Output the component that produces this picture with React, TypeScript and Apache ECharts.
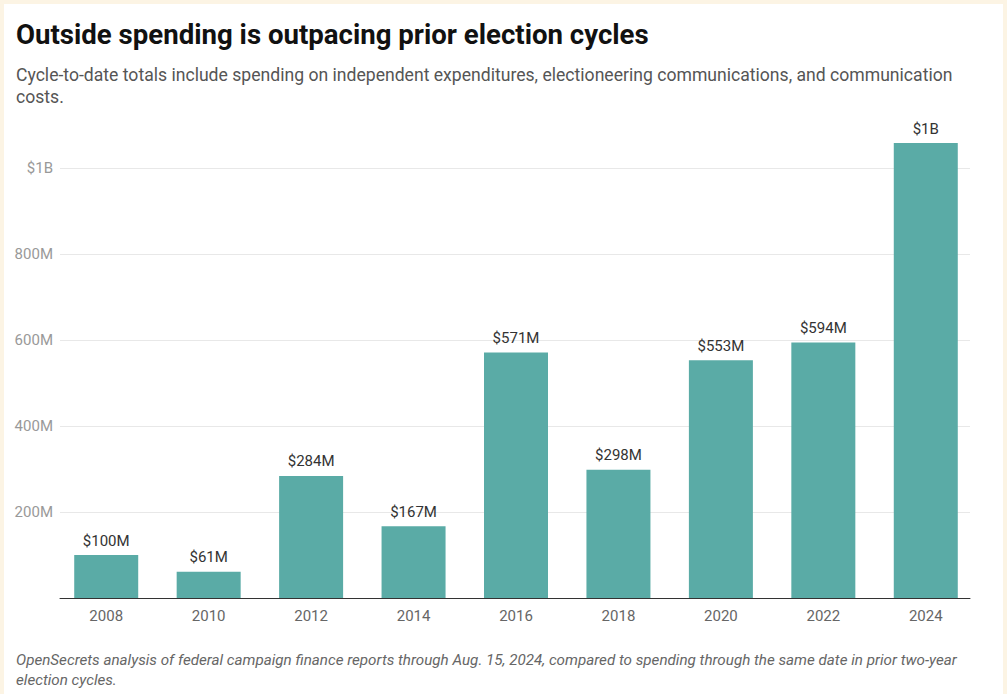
import React, { useEffect, useRef } from "react";
import * as echarts from "echarts";

const categories = ["2008", "2010", "2012", "2014", "2016", "2018", "2020", "2022", "2024"];
// Outside spending, cycle-to-date, in millions of dollars
const spending = [100, 61, 284, 167, 571, 298, 553, 594, 1058];
const yTicks = [0, 200, 400, 600, 800, 1000];

const TITLE = "Outside spending is outpacing prior election cycles";
const SUBTITLE =
  "Cycle-to-date totals include spending on independent expenditures, electioneering communications, and communication\ncosts.";
const NOTE =
  "OpenSecrets analysis of federal campaign finance reports through Aug. 15, 2024, compared to spending through the same date in prior two-year\nelection cycles.";

const fmtBar = (v: number) => (v >= 1000 ? "$" + Math.round(v / 1000) + "B" : "$" + v + "M");
const fmtAxis = (v: number) => (v === 0 ? "" : v >= 1000 ? "$" + v / 1000 + "B" : v + "M");

export default function App() {
  const ref = useRef<HTMLDivElement>(null);
  useEffect(() => {
    document.body.style.margin = "0";
    const chart = echarts.init(ref.current!, undefined, { renderer: "svg" });
    const font = "Roboto, 'Noto Sans', sans-serif";
    chart.setOption({
      animation: false,
      backgroundColor: "#ffffff",
      textStyle: { fontFamily: font },
      title: [
        {
          text: TITLE,
          left: 12,
          top: 14,
          padding: 0,
          textStyle: { fontSize: 27.6, fontWeight: "bold", color: "#111111", lineHeight: 32, fontFamily: font },
        },
        {
          text: SUBTITLE,
          left: 12,
          top: 60,
          padding: 0,
          textStyle: { fontSize: 17.6, fontWeight: "normal", color: "#555555", lineHeight: 22, fontFamily: font },
        },
        {
          text: NOTE,
          left: 12,
          top: 646,
          padding: 0,
          textStyle: { fontSize: 15.2, fontWeight: "normal", fontStyle: "italic", color: "#666666", lineHeight: 20, fontFamily: font },
        },
      ],
      grid: [
        { left: 51, right: 26, top: 164, bottom: 96, containLabel: false },
        { left: 56, right: 33, top: 164, bottom: 96, containLabel: false },
      ],
      xAxis: [
        {
          type: "category",
          gridIndex: 0,
          data: categories,
          axisLine: { show: false },
          axisTick: { show: false },
          axisLabel: { color: "#666666", fontSize: 15, margin: 10, fontFamily: font },
          splitLine: { show: false },
        },
        {
          type: "value",
          gridIndex: 1,
          min: 0,
          max: 1,
          axisLine: { show: true, onZero: false, lineStyle: { color: "#333333", width: 1 } },
          axisTick: { show: false },
          axisLabel: { show: false },
          splitLine: { show: false },
        },
      ],
      yAxis: [
        {
          type: "value",
          gridIndex: 0,
          min: yTicks[0],
          max: yTicks[yTicks.length - 1],
          interval: 200,
          show: false,
          splitLine: { show: false },
        },
        {
          type: "value",
          gridIndex: 1,
          min: yTicks[0],
          max: yTicks[yTicks.length - 1],
          interval: 200,
          axisLine: { show: false },
          axisTick: { show: false },
          axisLabel: { color: "#999999", fontSize: 15, margin: 7, formatter: fmtAxis, fontFamily: font },
          splitLine: { show: true, lineStyle: { color: "#e8e8e8", width: 1 } },
        },
      ],
      series: [
        {
          type: "bar",
          xAxisIndex: 0,
          yAxisIndex: 0,
          data: spending,
          barWidth: 64,
          clip: false,
          z: 3,
          itemStyle: { color: "#5aaba6" },
          label: {
            show: true,
            position: "top",
            distance: 7,
            color: "#333333",
            fontSize: 15,
            fontFamily: font,
            formatter: (p: any) => fmtBar(p.value),
          },
        },
      ],
    });
    return () => chart.dispose();
  }, []);
  return (
    <div style={{ position: "fixed", left: 0, top: 0, width: 1007, height: 694, background: "#fcf4e4" }}>
      <div ref={ref} style={{ position: "absolute", left: 4, top: 4, width: 999, height: 690 }} />
    </div>
  );
}
